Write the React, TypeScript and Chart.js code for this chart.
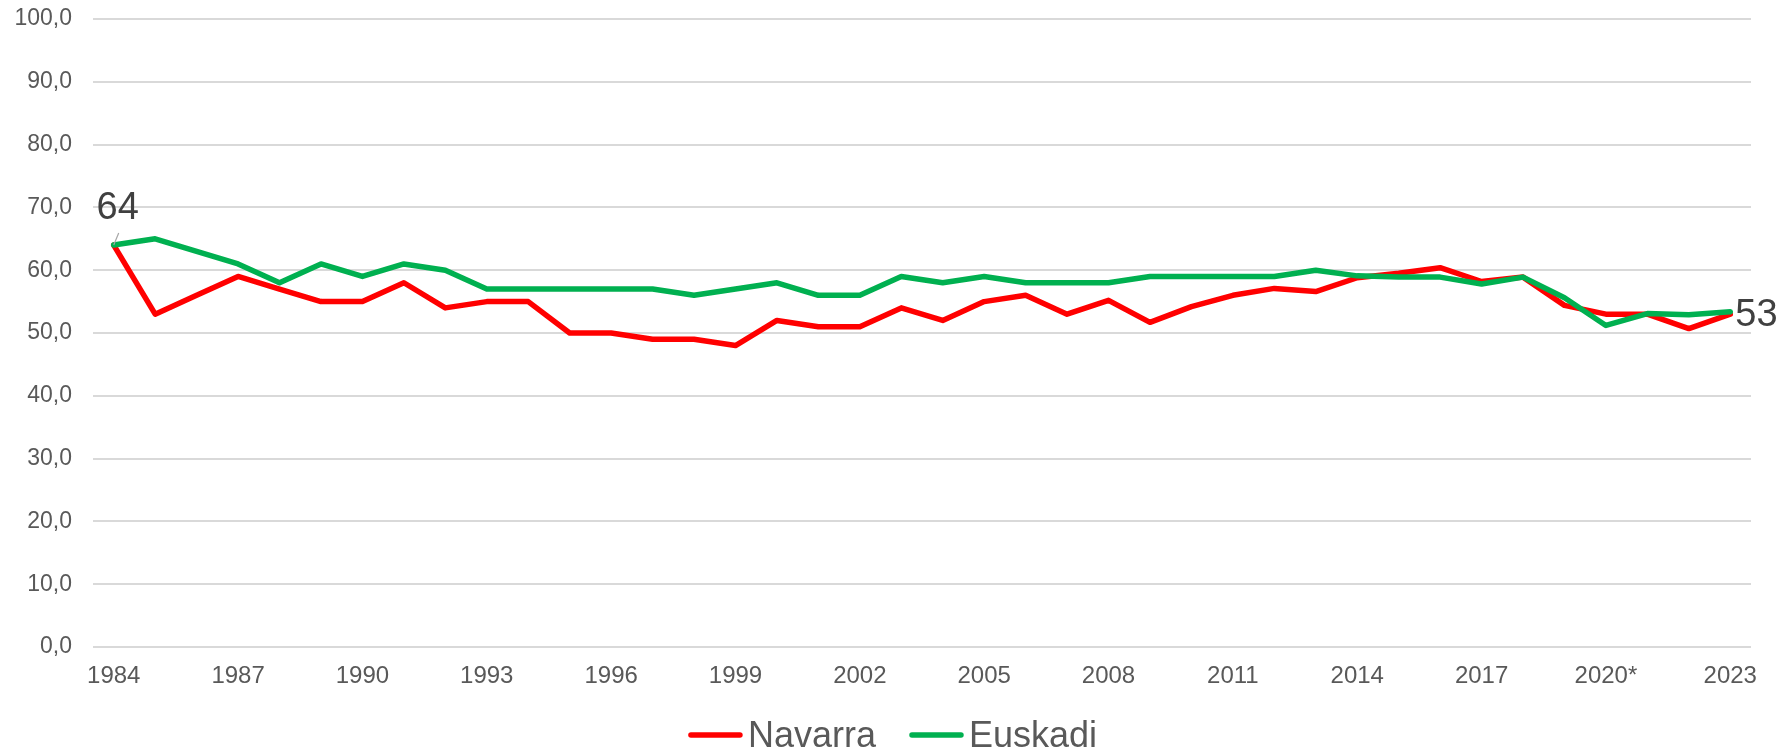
import React, { useEffect, useRef } from "react";
import { Chart, registerables } from "chart.js";

Chart.register(...registerables);

const years: string[] = [
  "1984", "1985", "1986", "1987", "1988", "1989", "1990", "1991", "1992", "1993",
  "1994", "1995", "1996", "1997", "1998", "1999", "2000", "2001", "2002", "2003",
  "2004", "2005", "2006", "2007", "2008", "2009", "2010", "2011", "2012", "2013",
  "2014", "2015", "2016", "2017", "2018", "2019", "2020*", "2021", "2022", "2023",
];

const navarra: number[] = [
  64, 53, 56, 59, 57, 55, 55, 58, 54, 55,
  55, 50, 50, 49, 49, 48, 52, 51, 51, 54,
  52, 55, 56, 53, 55.2, 51.7, 54.2, 56, 57.1, 56.6,
  58.8, 59.5, 60.4, 58.2, 58.9, 54.4, 53, 53, 50.7, 53,
];

const euskadi: number[] = [
  64, 65, 63, 61, 58, 61, 59, 61, 60, 57,
  57, 57, 57, 57, 56, 57, 58, 56, 56, 59,
  58, 59, 58, 58, 58, 59, 59, 59, 59, 60,
  59.1, 58.9, 58.9, 57.8, 58.9, 55.6, 51.2, 53.1, 52.9, 53.4,
];

const seriesNames: string[] = ["Navarra", "Euskadi"];
const seriesColors: string[] = ["#FF0000", "#00B050"];

const FONT = "Arial, 'Liberation Sans', sans-serif";

const labelPlugin = {
  id: "endLabels",
  afterDatasetsDraw(chart: any) {
    const ctx = chart.ctx;
    const meta = chart.getDatasetMeta(0);
    const data = chart.data.datasets[0].data as number[];
    const first = meta.data[0];
    const last = meta.data[meta.data.length - 1];
    ctx.save();
    ctx.strokeStyle = "#a6a6a6";
    ctx.lineWidth = 1.2;
    ctx.beginPath();
    ctx.moveTo(first.x, first.y);
    ctx.lineTo(first.x + 5, first.y - 12);
    ctx.stroke();
    ctx.fillStyle = "#404040";
    ctx.font = `38px ${FONT}`;
    ctx.textAlign = "center";
    ctx.textBaseline = "middle";
    ctx.fillText(String(Math.round(data[0])), first.x + 4, first.y - 37);
    ctx.textAlign = "left";
    ctx.fillText(String(Math.round(data[data.length - 1])), last.x + 5, last.y + 1);
    ctx.restore();
  },
};

const legendPlugin = {
  id: "customLegend",
  afterDraw(chart: any) {
    const ctx = chart.ctx;
    const lineLen = 55;
    const gap = 5;
    const spacing = 33;
    ctx.save();
    ctx.font = `36px ${FONT}`;
    const widths = seriesNames.map((n) => ctx.measureText(n).width);
    const total =
      widths.reduce((a, b) => a + b, 0) + seriesNames.length * (lineLen + gap) + spacing * (seriesNames.length - 1);
    let x = chart.width / 2 - total / 2 + 3;
    const lineY = 735;
    const textY = 747;
    seriesNames.forEach((name, i) => {
      ctx.strokeStyle = seriesColors[i];
      ctx.lineWidth = 5.5;
      ctx.lineCap = "round";
      ctx.beginPath();
      ctx.moveTo(x + 3, lineY);
      ctx.lineTo(x + lineLen - 3, lineY);
      ctx.stroke();
      x += lineLen + gap;
      ctx.fillStyle = "#595959";
      ctx.textAlign = "left";
      ctx.textBaseline = "alphabetic";
      ctx.fillText(name, x, textY);
      x += widths[i] + spacing;
    });
    ctx.restore();
  },
};

export default function App() {
  const canvasRef = useRef<HTMLCanvasElement | null>(null);

  useEffect(() => {
    if (!canvasRef.current) return;
    const chart = new Chart(canvasRef.current, {
      type: "line",
      data: {
        labels: years,
        datasets: [
          {
            label: seriesNames[0],
            data: navarra,
            borderColor: seriesColors[0],
            backgroundColor: seriesColors[0],
            borderWidth: 5.5,
            pointRadius: 0,
            tension: 0,
            borderJoinStyle: "round",
            borderCapStyle: "round",
            order: 2,
          },
          {
            label: seriesNames[1],
            data: euskadi,
            borderColor: seriesColors[1],
            backgroundColor: seriesColors[1],
            borderWidth: 5.5,
            pointRadius: 0,
            tension: 0,
            borderJoinStyle: "round",
            borderCapStyle: "round",
            order: 1,
          },
        ],
      },
      options: {
        responsive: false,
        animation: false,
        layout: { padding: { top: 19, right: 28, left: 0, bottom: 0 } },
        plugins: {
          legend: { display: false },
          tooltip: { enabled: false },
        },
        scales: {
          x: {
            type: "category",
            offset: true,
            grid: { display: false, drawTicks: false },
            border: { display: false },
            ticks: {
              autoSkip: false,
              maxRotation: 0,
              minRotation: 0,
              padding: 15,
              color: "#595959",
              font: { family: FONT, size: 24 },
              callback: function (this: any, _v: any, index: number) {
                return index % 3 === 0 ? years[index] : "";
              },
            },
            afterFit(scale: any) {
              scale.height = 103;
            },
          },
          y: {
            min: 0,
            max: 100,
            grid: {
              color: "#d9d9d9",
              lineWidth: 2,
              drawTicks: true,
              tickLength: 21,
              tickColor: "rgba(0,0,0,0)",
            },
            border: { display: false },
            ticks: {
              stepSize: 10,
              padding: 0,
              color: "#595959",
              font: { family: FONT, size: 23 },
              callback: (v: any) => Number(v).toFixed(1).replace(".", ","),
            },
            afterFit(scale: any) {
              scale.width = 93;
            },
          },
        },
      },
      plugins: [labelPlugin, legendPlugin],
    });
    return () => chart.destroy();
  }, []);

  return (
    <div style={{ position: "absolute", left: 0, top: 0, width: 1779, height: 750, background: "#fff" }}>
      <canvas ref={canvasRef} width={1779} height={750} style={{ display: "block" }} />
    </div>
  );
}
